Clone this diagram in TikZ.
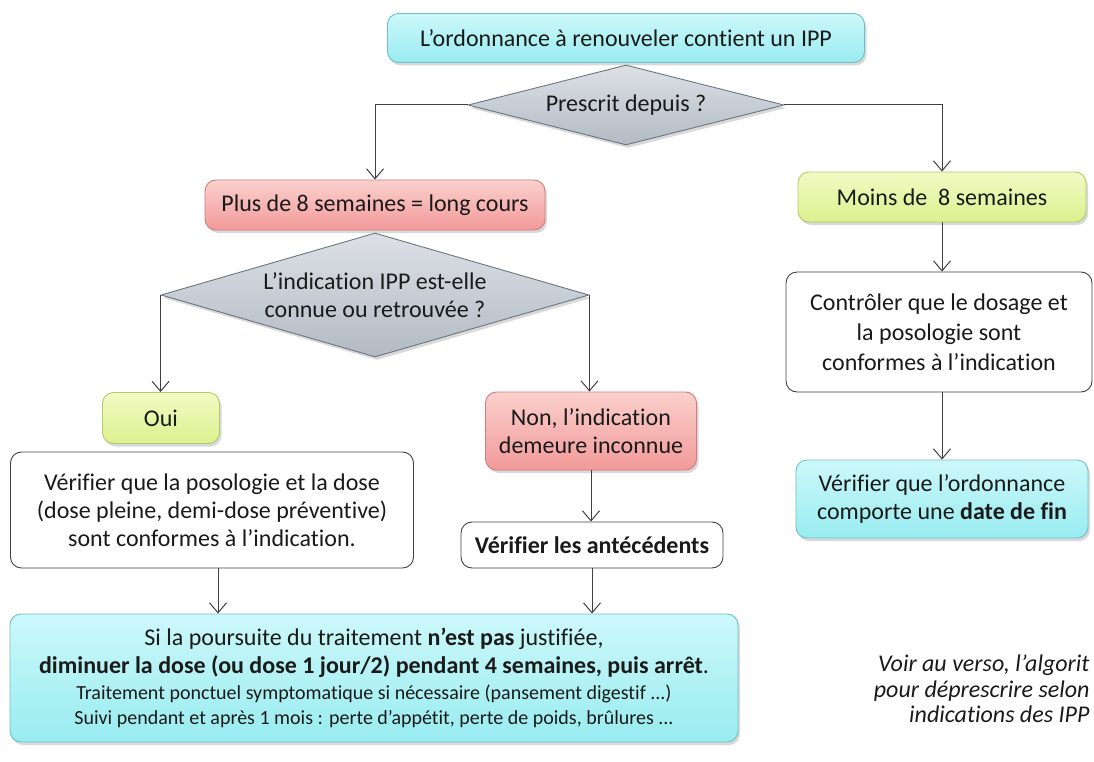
\documentclass[tikz,border=0pt]{standalone}
\usepackage{fontspec}
\setmainfont{Carlito}[Ligatures=NoCommon]
\usetikzlibrary{arrows.meta,shadows,shapes.geometric}
\definecolor{cyantop}{HTML}{CDF8FA}
\definecolor{cyanbot}{HTML}{98ECF0}
\definecolor{cyanedge}{HTML}{6CC0C6}
\definecolor{redtop}{HTML}{FAD0CC}
\definecolor{redbot}{HTML}{F29A9A}
\definecolor{rededge}{HTML}{D07C7C}
\definecolor{yeltop}{HTML}{F2FAC4}
\definecolor{yelbot}{HTML}{DDF08E}
\definecolor{yeledge}{HTML}{B8C868}
\definecolor{graytop}{HTML}{DDE1E6}
\definecolor{graybot}{HTML}{B2BAC3}
\definecolor{grayedge}{HTML}{6A7682}
\definecolor{txt}{HTML}{1A1A1A}
\begin{document}
\begin{tikzpicture}[x=1pt,y=-1pt,
  every node/.style={font=\fontsize{24}{28}\selectfont, text=txt},
  box/.style={rectangle, rounded corners=11pt, align=center, inner sep=0pt, line width=0.9pt},
  shad/.style={drop shadow={opacity=0.3, shadow xshift=2pt, shadow yshift=-3pt}},
  cyanbox/.style={box, shad, draw=cyanedge, top color=cyantop, bottom color=cyanbot},
  redbox/.style={box, shad, draw=rededge, top color=redtop, bottom color=redbot},
  yelbox/.style={box, shad, draw=yeledge, top color=yeltop, bottom color=yelbot},
  whitebox/.style={box, draw=black!75, fill=white},
  decision/.style={diamond, aspect=4, inner sep=0pt, shad, draw=grayedge, line width=0.9pt, top color=graytop, bottom color=graybot},
  arr/.style={-{Straight Barb[length=10pt,width=17pt]}, draw=black!75, line width=1pt},
]
\useasboundingbox (0,0) rectangle (1094,762);

\node[cyanbox, minimum width=477pt, minimum height=49pt] (top) at (626,38) {L’ordonnance à renouveler contient un IPP};
\node[decision, minimum width=316pt, minimum height=80pt] (d1) at (626,105) {};
\node (d1t) at (d1.center) {Prescrit depuis ?};

\node[redbox, minimum width=340pt, minimum height=50pt] (red) at (375,205) {Plus de 8 semaines = long cours};
\node[yelbox, minimum width=288pt, minimum height=50pt] (moins) at (942,197) {Moins de \ 8 semaines};

\node[decision, minimum width=428pt, minimum height=124pt] (d2) at (375,295) {};
\node[align=center] (d2t) at (d2.center) {L’indication IPP est-elle\\connue ou retrouvée ?};

\node[yelbox, minimum width=117pt, minimum height=51pt] (oui) at (161,418) {Oui};
\node[redbox, minimum width=211pt, minimum height=78pt] (non) at (591,431) {Non, l’indication\\demeure inconnue};

\node[whitebox, minimum width=403pt, minimum height=116pt] (poso) at (212,510) {Vérifier que la posologie et la dose\\(dose pleine, demi-dose préventive)\\sont conformes à l’indication.};
\node[whitebox, minimum width=262pt, minimum height=46pt] (ant) at (592,545) {\textbf{Vérifier les antécédents}};

\node[cyanbox, minimum width=728pt, minimum height=128pt] (bot) at (374,678) {Si la poursuite du traitement \textbf{n’est pas} justifiée,\\\textbf{diminuer la dose (ou dose 1 jour/2) pendant 4 semaines, puis arrêt}.\\[-2pt]{\fontsize{20}{24}\selectfont Traitement ponctuel symptomatique si nécessaire (pansement digestif ...)}\\[-3pt]{\fontsize{20}{24}\selectfont Suivi pendant et après 1 mois : perte d’appétit, perte de poids, brûlures ...}};

\node[whitebox, minimum width=306pt, minimum height=120pt] (ctrl) at (939,332) {Contrôler que le dosage et\\[2pt]la posologie sont\\[2pt]conformes à l’indication};
\node[cyanbox, minimum width=292pt, minimum height=78pt] (verif) at (942,499) {Vérifier que l’ordonnance\\comporte une \textbf{date de fin}};

\node[align=right, anchor=east, font=\fontsize{24}{25.5}\selectfont\itshape] (note) at (1093,689) {Voir au verso, l’algorit\\pour déprescrire selon\\indications des IPP};

\draw[arr] (d1.west) -| (red.north);
\draw[arr] (d1.east) -| (moins.north);
\draw[arr] (d2.west) -- (d2.west |- oui.north);
\draw[arr] (d2.east) -- (d2.east |- non.north);
\draw[arr] (non.south) -- (non.south |- ant.north);
\draw[arr] ([xshift=6pt]poso.south) -- ([xshift=6pt]poso.south |- bot.north);
\draw[arr] (ant.south) -- (ant.south |- bot.north);
\draw[arr] (moins.south) -- (moins.south |- ctrl.north);
\draw[arr] (moins.south |- ctrl.south) -- (moins.south |- verif.north);
\end{tikzpicture}
\end{document}
